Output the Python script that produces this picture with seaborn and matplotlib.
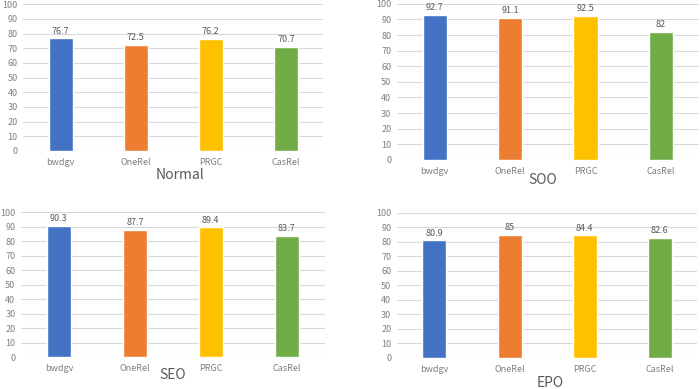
import pandas as pd
import seaborn as sns
import matplotlib.pyplot as plt

# =========================
# DATA
# =========================

models = ["bwdgv", "OneRel", "PRGC", "CasRel"]
normal_scores = [76.7, 72.5, 76.2, 70.7]
soo_scores = [92.7, 91.1, 92.5, 82]
seo_scores = [90.3, 87.7, 89.4, 83.7]
epo_scores = [80.9, 85, 84.4, 82.6]
panel_titles = ["Normal", "SOO", "SEO", "EPO"]
y_ticks = list(range(0, 101, 10))

colors = ["#4472C4", "#ED7D31", "#FFC000", "#70AD47"]

sns.set_style("white")
plt.rcParams["font.family"] = ["Noto Sans CJK SC", "DejaVu Sans"]

fig = plt.figure(figsize=(7, 3.89), dpi=100)

# axes rectangles in figure fraction, and x-label position (axes coords)
panels = [
    (normal_scores, [0.033, 0.612, 0.429, 0.377], (0.523, -0.164)),
    (soo_scores, [0.567, 0.589, 0.431, 0.401], (0.483, -0.128)),
    (seo_scores, [0.030, 0.082, 0.434, 0.373], (0.50, -0.124)),
    (epo_scores, [0.567, 0.080, 0.429, 0.373], (0.51, -0.172)),
]

tick_color = "#7F7F7F"
text_color = "#595959"

for (scores, rect, label_pos), title in zip(panels, panel_titles):
    ax = fig.add_axes(rect)
    df = pd.DataFrame({"model": models, "score": scores})
    sns.barplot(
        data=df, x="model", y="score", hue="model",
        palette=colors, width=0.32, legend=False, ax=ax,
        saturation=1,
    )
    for c in ax.containers:
        ax.bar_label(c, fmt="{:g}", padding=2, fontsize=6.5, color=text_color)

    ax.set_ylim(0, 100)
    ax.set_yticks(y_ticks)
    ax.set_xlim(-0.5, 3.5)
    ax.grid(axis="y", color="#D9D9D9", linewidth=0.8)
    ax.set_axisbelow(True)
    for s in ax.spines.values():
        s.set_visible(False)
    ax.tick_params(axis="both", length=0, labelsize=6.5, labelcolor=tick_color)
    ax.tick_params(axis="x", pad=5)
    ax.tick_params(axis="y", pad=4)
    ax.set_ylabel("")
    ax.set_xlabel(title, fontsize=10, color=text_color)
    ax.xaxis.label.set_va("center")
    ax.xaxis.set_label_coords(*label_pos)

fig.savefig("out.png", dpi=100)
